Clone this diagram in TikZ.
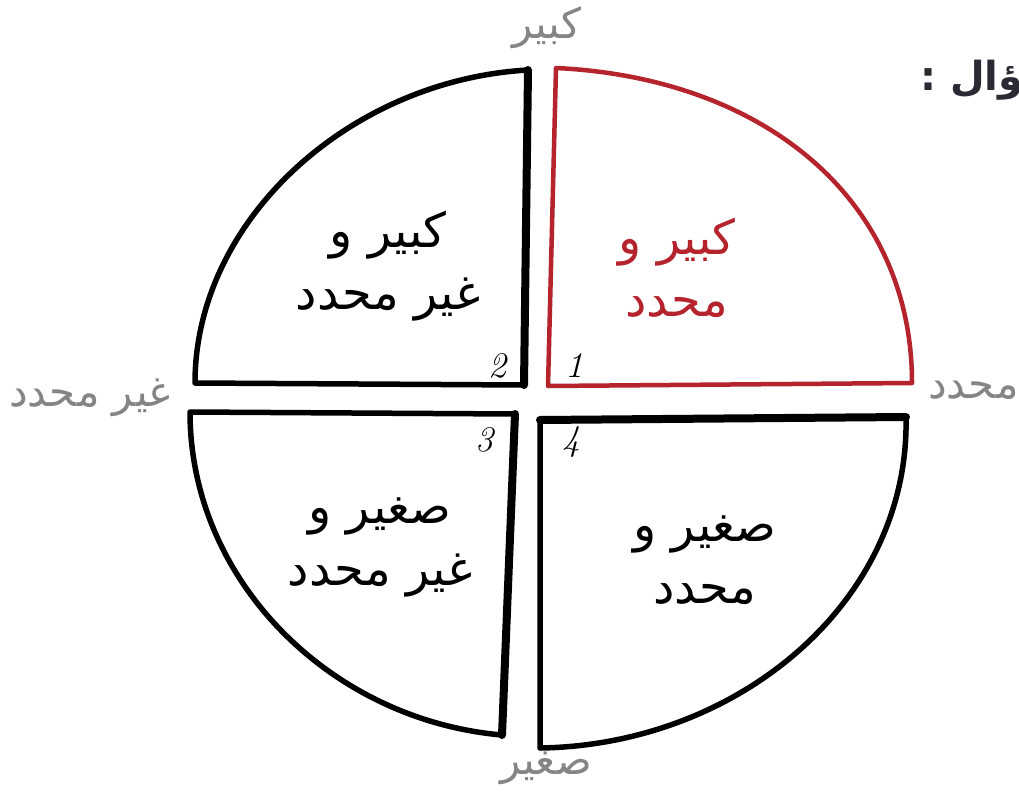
\documentclass[tikz,border=0pt]{standalone}
\usepackage{fontspec}
\TeXXeTstate=1
\newfontfamily\arabicfont[Script=Arabic]{DejaVu Sans}
\definecolor{qred}{HTML}{B5232D}
\definecolor{lgray}{HTML}{858585}
\definecolor{dark}{HTML}{2A2A35}
\tikzset{
  quad/.style={line width=5.5pt, line cap=round, line join=round, draw=black},
  quadred/.style={line width=4.5pt, line cap=round, line join=round, draw=qred},
  inner/.style={line width=8pt, line cap=round},
  qtext/.style={font=\arabicfont\fontsize{48}{62}\selectfont, align=center, inner sep=0pt},
  axis/.style={font=\arabicfont\fontsize{42}{48}\selectfont, text=lgray, inner sep=0pt},
  num/.style={font=\itshape\fontsize{36}{38}\selectfont, inner sep=0pt}
}
\begin{document}
\begin{tikzpicture}[x=1pt,y=-1pt]
\path[use as bounding box, fill=white] (0,0) rectangle (1019,792);
% quadrant 1 (red)
\coordinate (c1) at (548,386);
\coordinate (t1) at (556,68);
\coordinate (r1) at (912,383);
\draw[quadred] (c1) -- (t1) .. controls (765,78) and (912,200) .. (r1) -- cycle;
% quadrant 2
\coordinate (c2) at (524,385);
\coordinate (t2) at (528,70);
\coordinate (l2) at (195,383);
\draw[quad] (c2) -- (t2) .. controls (350,80) and (195,220) .. (l2) -- cycle;
\draw[inner] (c2) -- (t2);
% quadrant 3
\coordinate (c3) at (515,414);
\coordinate (l3) at (190,412);
\coordinate (b3) at (502,735);
\draw[quad] (c3) -- (l3) .. controls (190,580) and (330,720) .. (b3) -- cycle;
\draw[inner] (c3) -- (b3);
% quadrant 4
\coordinate (c4) at (540,420);
\coordinate (r4) at (906,417);
\coordinate (b4) at (540,748);
\draw[quad] (c4) -- (r4) .. controls (910,600) and (740,745) .. (b4) -- cycle;
\draw[inner] (c4) -- (r4);
% quadrant texts
\node[qtext, text=qred] (q1) at (677,268) {\beginR كبير و\endR\\\beginR محدد\endR};
\node[qtext] (q2) at (388,266) {\beginR كبير و\endR\\\beginR غير محدد\endR};
\node[qtext] (q3) at (380,547) {\beginR صغير و\endR\\\beginR غير محدد\endR};
\node[qtext] (q4) at (705,560) {\beginR صغير و\endR\\\beginR محدد\endR};
% numbers
\node[num] (n1) at (574,366) {1};
\node[num] (n2) at (497,366) {2};
\node[num] (n3) at (484,440) {3};
\node[num] (n4) at (571,442) {4};
% axis labels
\node[axis] (top) at (547,28) {\beginR كبير\endR};
\node[axis] (bot) at (546,768) {\beginR صغير\endR};
\node[axis] (lft) at (90,398) {\beginR غير محدد\endR};
\node[axis, anchor=west] (rgt) at (928,390) {\beginR محدد\endR};
% title (cut off at right edge, as in the reference)
\node[font=\arabicfont\bfseries\fontsize{40}{48}\selectfont, text=dark, anchor=west, inner sep=0pt] (ttl) at (920,80) {\beginR سؤال :\endR};
\end{tikzpicture}
\end{document}
